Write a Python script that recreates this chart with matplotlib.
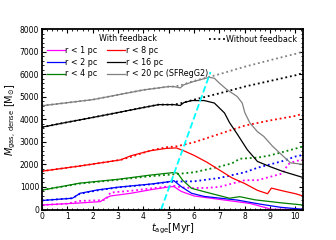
import matplotlib
matplotlib.use('Agg')
import matplotlib.pyplot as plt
from matplotlib.ticker import MultipleLocator

# ---- data (t in Myr, M in Msun) ----
t_r1 = [0, 1.0, 1.5, 2.3, 2.5, 2.7, 3.5, 4.3, 5.0, 5.2, 5.5, 6.0, 7.0, 7.8, 8.2, 8.6, 8.9, 9.0, 10.3]
m_r1 = [200, 260, 290, 350, 500, 600, 720, 880, 1000, 1020, 800, 600, 450, 330, 270, 150, 60, 10, 0]
t_r1_nf = [0, 1.0, 1.5, 2.5, 2.7, 3.5, 4.5, 5.2, 5.5, 6.0, 6.5, 7.0, 7.5, 8.0, 8.5, 9.0, 9.5, 9.7, 10.0, 10.3]
m_r1_nf = [200, 260, 380, 420, 750, 830, 960, 1050, 980, 950, 960, 1000, 1150, 1300, 1300, 1450, 1600, 2000, 2150, 2200]

t_r2 = [0, 1.2, 1.5, 2.2, 3.0, 4.3, 5.0, 5.2, 5.5, 5.9, 6.4, 7.7, 8.6, 9.4, 10.3]
m_r2 = [400, 500, 720, 870, 990, 1130, 1230, 1280, 1010, 720, 580, 420, 240, 100, 10]
t_r2_nf = [0, 1.2, 1.5, 2.2, 3.0, 4.3, 5.0, 5.3, 6.0, 7.0, 8.0, 8.5, 9.0, 9.5, 10.0, 10.3]
m_r2_nf = [400, 500, 700, 850, 980, 1120, 1220, 1240, 1250, 1400, 1650, 1850, 2000, 2150, 2350, 2420]

t_r4 = [0, 1.5, 3.0, 4.3, 5.2, 5.35, 5.55, 5.9, 6.4, 7.4, 7.8, 8.4, 9.4, 10.3]
m_r4 = [860, 1170, 1340, 1530, 1640, 1610, 1300, 940, 790, 500, 570, 430, 300, 200]
t_r4_nf = [0, 1.5, 3.0, 4.3, 5.2, 6.0, 7.0, 7.5, 7.8, 8.5, 9.0, 9.5, 10.0, 10.3]
m_r4_nf = [860, 1150, 1320, 1480, 1560, 1650, 1900, 2050, 2250, 2300, 2400, 2550, 2700, 2800]

t_r8 = [0, 1.5, 3.1, 3.5, 3.9, 4.3, 4.9, 5.3, 5.6, 6.0, 6.5, 7.0, 7.5, 8.0, 8.5, 8.9, 9.05, 9.3, 9.6, 10.0, 10.3]
m_r8 = [1700, 1930, 2200, 2380, 2500, 2610, 2710, 2730, 2600, 2400, 2100, 1750, 1400, 1150, 850, 700, 950, 880, 800, 700, 600]
t_r8_nf = [0, 1.5, 3.1, 3.5, 3.9, 4.3, 4.9, 5.3, 6.0, 7.0, 8.0, 9.0, 10.0, 10.3]
m_r8_nf = [1700, 1930, 2200, 2330, 2480, 2620, 2760, 2800, 2980, 3350, 3720, 3950, 4150, 4250]

t_r16 = [0, 1.0, 2.0, 3.0, 4.0, 4.6, 5.2, 5.45, 5.6, 5.9, 6.4, 6.8, 7.2, 7.4, 7.7, 8.1, 8.5, 9.0, 9.5, 10.3]
m_r16 = [3650, 3870, 4080, 4300, 4520, 4650, 4650, 4610, 4740, 4830, 4830, 4720, 4280, 3850, 3350, 2650, 2130, 1900, 1690, 1420]
t_r16_nf = [0, 1.0, 2.0, 3.0, 4.0, 4.6, 5.2, 5.45, 6.0, 7.0, 8.0, 9.0, 10.0, 10.3]
m_r16_nf = [3650, 3870, 4080, 4300, 4520, 4650, 4650, 4700, 4870, 5150, 5450, 5700, 5950, 6050]

t_r20 = [0, 2.0, 4.0, 5.0, 5.2, 5.45, 5.6, 6.0, 6.6, 6.8, 7.0, 7.3, 7.7, 7.9, 8.0, 8.2, 8.5, 8.75, 9.1, 9.5, 9.8, 10.3]
m_r20 = [4600, 4870, 5300, 5450, 5450, 5390, 5530, 5680, 5860, 5820, 5600, 5310, 5010, 4720, 4300, 3840, 3450, 3240, 2800, 2380, 2070, 2000]
t_r20_nf = [0, 2.0, 4.0, 5.0, 5.2, 5.45, 6.0, 7.0, 8.0, 9.0, 10.0, 10.3]
m_r20_nf = [4600, 4870, 5300, 5450, 5450, 5500, 5700, 6000, 6330, 6620, 6900, 7000]

# cyan dashed guide
t_cyan = [4.7, 6.65]
m_cyan = [0, 6100]

fig = plt.figure(figsize=(3.36, 2.4), dpi=100)
ax = fig.add_axes([0.125, 0.127, 0.777, 0.752])

series = [
    (t_r1, m_r1, t_r1_nf, m_r1_nf, '#ff00ff', 'r < 1 pc'),
    (t_r2, m_r2, t_r2_nf, m_r2_nf, '#0000ff', 'r < 2 pc'),
    (t_r4, m_r4, t_r4_nf, m_r4_nf, 'green', 'r < 4 pc'),
    (t_r8, m_r8, t_r8_nf, m_r8_nf, '#ff0000', 'r < 8 pc'),
    (t_r16, m_r16, t_r16_nf, m_r16_nf, 'black', 'r < 16 pc'),
    (t_r20, m_r20, t_r20_nf, m_r20_nf, 'gray', 'r < 20 pc (SFRegG2)'),
]

dots = (0, (1, 1.6))
handles = []
for t, m, tn, mn, c, lab in series:
    ax.plot(tn, mn, color=c, linestyle=dots, lw=1.3)
    h, = ax.plot(t, m, color=c, lw=0.9, label=lab)
    handles.append(h)

ax.plot(t_cyan, m_cyan, color='cyan', linestyle='--', lw=1.3)

ax.set_xlim(0, 10.3)
ax.set_ylim(0, 8000)
ax.xaxis.set_major_locator(MultipleLocator(1))
ax.xaxis.set_minor_locator(MultipleLocator(0.2))
ax.yaxis.set_major_locator(MultipleLocator(1000))
ax.yaxis.set_minor_locator(MultipleLocator(200))
ax.tick_params(which='both', direction='in', top=True, right=True, labelsize=5.5, pad=2)
ax.tick_params(which='major', length=3, width=0.8)
ax.tick_params(which='minor', length=1.5, width=0.6)
for s in ax.spines.values():
    s.set_linewidth(1.3)

ax.set_xlabel(r'$t_{\rm age}$[Myr]', fontsize=7, labelpad=0)
ax.set_ylabel(r'$M_{\rm gas,\,dense}$ [M$_{\odot}$]', fontsize=7, labelpad=1)

leg1 = ax.legend(handles=handles, loc='upper left', ncol=2, frameon=False,
                 fontsize=5.8, title='With feedback', title_fontsize=5.8,
                 handlelength=2.2, handletextpad=0.1, columnspacing=1.2,
                 labelspacing=0.35, borderaxespad=0.2)
ax.add_artist(leg1)
nf, = ax.plot([], [], color='black', linestyle=dots, lw=1.3, label='Without feedback')
ax.legend(handles=[nf], loc='upper right', frameon=False, fontsize=5.8,
          handlelength=2.0, handletextpad=0.1, borderaxespad=0.3)

fig.savefig('out.png', dpi=100)
